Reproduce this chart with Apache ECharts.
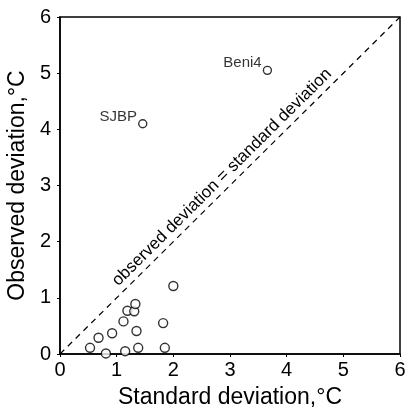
<!DOCTYPE html>
<html>
<head>
<meta charset="utf-8">
<script src="https://cdn.jsdelivr.net/npm/echarts@6/dist/echarts.min.js"></script>
<style>
  html, body { margin: 0; padding: 0; background: #fff; }
  #chart { width: 405px; height: 410px; }
</style>
</head>
<body>
<div id="chart"></div>
<script>
// standard deviation (x) vs observed deviation (y), °C
var stdDev = [0.53, 0.68, 0.81, 0.92, 1.12, 1.15, 1.19, 1.31, 1.33, 1.35, 1.38, 1.82, 1.85, 2.0];
var obsDev = [0.11, 0.29, 0.01, 0.37, 0.58, 0.05, 0.77, 0.76, 0.89, 0.41, 0.11, 0.55, 0.11, 1.21];

// labelled sites
var siteNames = ['Beni4', 'SJBP'];
var siteStd = [3.66, 1.46];
var siteObs = [5.05, 4.10];

var axisTicks = [0, 1, 2, 3, 4, 5, 6];

var chart = echarts.init(document.getElementById('chart'));

var points = stdDev.map(function (v, i) { return [v, obsDev[i]]; });
var sites = siteNames.map(function (n, i) { return { name: n, value: [siteStd[i], siteObs[i]] }; });

var font = 'Liberation Sans, Arial, Helvetica, sans-serif';

var option = {
  animation: false,
  grid: {
    left: 60, right: 5, top: 17, bottom: 56,
    containLabel: false,
    outerBoundsMode: 'none',
    show: true, borderColor: '#000', borderWidth: 1.5
  },
  xAxis: {
    type: 'value',
    min: axisTicks[0], max: axisTicks[axisTicks.length - 1], interval: 1,
    name: 'Standard deviation,°C',
    nameLocation: 'middle', nameGap: 32,
    nameTextStyle: { fontSize: 23, color: '#000', fontFamily: font },
    axisLine: { lineStyle: { color: '#000', width: 1.5 } },
    axisTick: { show: true, length: 3, lineStyle: { color: '#000' } },
    axisLabel: { fontSize: 20, color: '#000', fontFamily: font, margin: 6 },
    splitLine: { show: false }
  },
  yAxis: {
    type: 'value',
    min: axisTicks[0], max: axisTicks[axisTicks.length - 1], interval: 1,
    name: 'Observed deviation,°C',
    nameLocation: 'middle', nameGap: 29,
    nameTextStyle: { fontSize: 23, color: '#000', fontFamily: font },
    axisLine: { lineStyle: { color: '#000', width: 1.5 } },
    axisTick: { show: true, length: 3, lineStyle: { color: '#000' } },
    axisLabel: { fontSize: 20, color: '#000', fontFamily: font, margin: 9 },
    splitLine: { show: false }
  },
  series: [
    {
      type: 'scatter',
      data: points,
      symbol: 'circle',
      symbolSize: 9,
      itemStyle: { color: '#fff', borderColor: '#000', borderWidth: 1.4 },
      markLine: {
        silent: true,
        symbol: ['none', 'none'],
        lineStyle: { color: '#000', type: [6, 5], width: 1.2 },
        label: {
          show: true,
          position: 'insideMiddleTop',
          formatter: 'observed deviation = standard deviation',
          color: '#000', fontSize: 17, fontFamily: font, distance: 3
        },
        data: [[{ coord: [0, 0] }, { coord: [6, 6] }]]
      }
    },
    {
      type: 'scatter',
      data: sites,
      symbol: 'circle',
      symbolSize: 8,
      itemStyle: { color: '#fff', borderColor: '#000', borderWidth: 1.4 },
      label: {
        show: true,
        position: 'left',
        formatter: '{b}',
        color: '#000', fontSize: 15, fontFamily: font,
        distance: 1, offset: [0, -7]
      }
    }
  ]
};

chart.setOption(option);
</script>
</body>
</html>
